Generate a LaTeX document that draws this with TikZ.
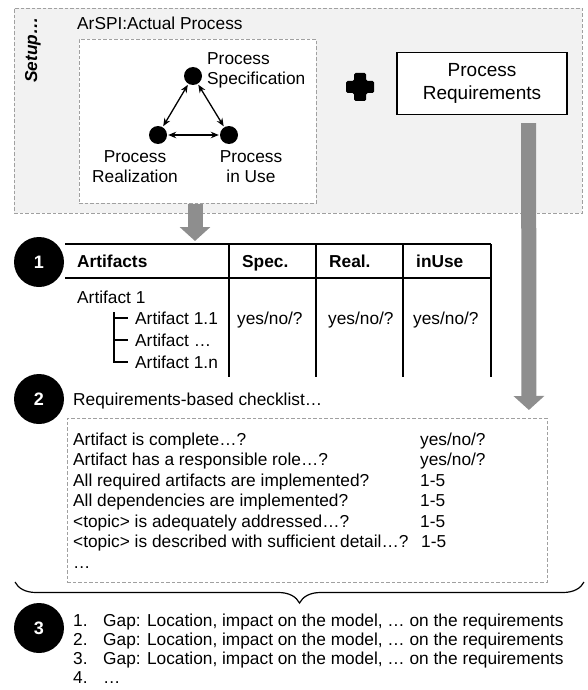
\documentclass[tikz,border=0pt]{standalone}
\usepackage{fontspec}
\setmainfont{Liberation Sans}
\usetikzlibrary{arrows.meta,decorations.pathreplacing,calc}
\definecolor{setupfill}{HTML}{F2F2F2}
\definecolor{dashgray}{HTML}{A0A0A0}
\definecolor{arrowgray}{HTML}{8E8E8E}
\begin{document}
\begin{tikzpicture}[x=1pt,y=-1pt,
  every node/.style={font=\fontsize{17.3}{20}\selectfont},
  dashbox/.style={draw=dashgray, dash pattern=on 3.5pt off 2pt, line width=0.9pt, inner sep=0pt, anchor=north west},
  pdot/.style={circle, fill=black, inner sep=0pt, minimum size=18pt},
  numc/.style={circle, fill=black, text=white, inner sep=0pt, minimum size=50pt, font=\fontsize{18}{20}\selectfont\bfseries},
  lt/.style={anchor=base west, inner sep=0pt},
  ht/.style={anchor=base west, inner sep=0pt, font=\fontsize{17.3}{20}\selectfont\bfseries},
  dblarrow/.style={{Stealth[length=8pt,width=6.5pt]}-{Stealth[length=8pt,width=6.5pt]}, line width=1.3pt, shorten <=1pt, shorten >=1pt},
  bigarrow/.style={draw=arrowgray, line width=15pt, -{Triangle[length=14pt,width=30pt]}, fill=arrowgray},
  tbl/.style={line width=1.4pt},
  thin/.style={line width=1.3pt}
]
\useasboundingbox (0,0) rectangle (587,690);

% setup area
\node[dashbox, fill=setupfill, minimum width=568pt, minimum height=205pt] (setup) at (14,8) {};
\node[rotate=90, inner sep=0pt, font=\fontsize{17.3}{20}\selectfont\bfseries\itshape] (setuplbl) at (33,50) {Setup…};
\node[lt] (arspi) at (77,30) {ArSPI:Actual Process};
\node[dashbox, fill=white, minimum width=237pt, minimum height=164pt] (inner) at (79,39) {};

\node[pdot] (spec) at (193,76) {};
\node[pdot] (real) at (158,135) {};
\node[pdot] (inuse) at (229,135) {};
\draw[dblarrow] (spec) -- (real);
\draw[dblarrow] (spec) -- (inuse);
\draw[dblarrow] (real) -- (inuse);
\node[anchor=west, align=left, inner sep=0pt] (specl) at (207,70) {Process\\Specification};
\node[align=center, inner sep=0pt] (reall) at (135,167) {Process\\Realization};
\node[align=center, inner sep=0pt] (inusel) at (251,167) {Process\\in Use};

% plus
\coordinate (plus) at (360,87);
\fill[rounded corners=1.5pt] ($(plus)+(-14,-6)$) -- ($(plus)+(-6,-6)$) -- ($(plus)+(-6,-14)$) -- ($(plus)+(6,-14)$) -- ($(plus)+(6,-6)$) -- ($(plus)+(14,-6)$) -- ($(plus)+(14,6)$) -- ($(plus)+(6,6)$) -- ($(plus)+(6,14)$) -- ($(plus)+(-6,14)$) -- ($(plus)+(-6,6)$) -- ($(plus)+(-14,6)$) -- cycle;

\node[draw, line width=1.3pt, fill=white, minimum width=170pt, minimum height=62pt, align=center, font=\fontsize{19}{23.5}\selectfont] (req) at (482,83.5) {Process\\Requirements};

% checklist box
\node[dashbox, fill=white, minimum width=480pt, minimum height=164pt] (check) at (67,418) {};

% table
\coordinate (tabtop) at (195,244);
\draw[tbl] (65,244) -- (491,244);
\draw[tbl] (65,278) -- (491,278);
\foreach \x in {229,316,403,491} \draw[tbl] (\x,244) -- (\x,377);

% big arrows
\draw[bigarrow] ($(req.south east)+(-39,8)$) -- ($(check.north east)+(-19,-8)$);
\draw[bigarrow] (inner.south -| tabtop) -- ($(tabtop)+(0,-3)$);

\node[numc] (n1) at (39,262) {1};
\node[ht] (h1) at (77,267) {Artifacts};
\node[ht] (h2) at (242,267) {Spec.};
\node[ht] (h3) at (329,267) {Real.};
\node[ht] (h4) at (416,267) {inUse};

\node[lt] (a1) at (77,303) {Artifact 1};
\node[lt] (a11) at (135,324) {Artifact 1.1};
\node[lt] (a1x) at (135,346) {Artifact …};
\node[lt] (a1n) at (135,368) {Artifact 1.n};
\draw[thin] (114,312) -- (114,362) -- (128,362);
\draw[thin] (114,318) -- (128,318);
\draw[thin] (114,340) -- (128,340);
\node[lt] (v1) at (237,324) {yes/no/?};
\node[lt] (v2) at (328,324) {yes/no/?};
\node[lt] (v3) at (413,324) {yes/no/?};

% checklist
\node[numc] (n2) at (39,399) {2};
\node[lt] (chkt) at (73,405) {Requirements-based checklist…};
\node[lt] (c1) at (73,445) {Artifact is complete…?};
\node[lt] (c1v) at (420,445) {yes/no/?};
\node[lt] (c2) at (73,465.5) {Artifact has a responsible role…?};
\node[lt] (c2v) at (420,465.5) {yes/no/?};
\node[lt] (c3) at (73,486) {All required artifacts are implemented?};
\node[lt] (c3v) at (420,486) {1-5};
\node[lt] (c4) at (73,506.5) {All dependencies are implemented?};
\node[lt] (c4v) at (420,506.5) {1-5};
\node[lt] (c5) at (73,527) {\textless topic\textgreater{} is adequately addressed…?};
\node[lt] (c5v) at (420,527) {1-5};
\node[lt] (c6) at (73,547.5) {\textless topic\textgreater{} is described with sufficient detail…?};
\node[lt] (c6v) at (421,547.5) {1-5};
\node[lt] (c7) at (73,568) {…};

% brace
\draw[decorate, decoration={brace, amplitude=21pt}, line width=1.2pt] (584,582) -- (15,582);

% gaps
\node[numc] (n3) at (39,628) {3};
\node[lt] (g1n) at (73,626) {1.};
\node[lt] (g1) at (103,626) {Gap: Location, impact on the model, … on the requirements};
\node[lt] (g2n) at (73,645) {2.};
\node[lt] (g2) at (103,645) {Gap: Location, impact on the model, … on the requirements};
\node[lt] (g3n) at (73,664) {3.};
\node[lt] (g3) at (103,664) {Gap: Location, impact on the model, … on the requirements};
\node[lt] (g4n) at (73,683) {4.};
\node[lt] (g4) at (103,683) {…};
\end{tikzpicture}
\end{document}
